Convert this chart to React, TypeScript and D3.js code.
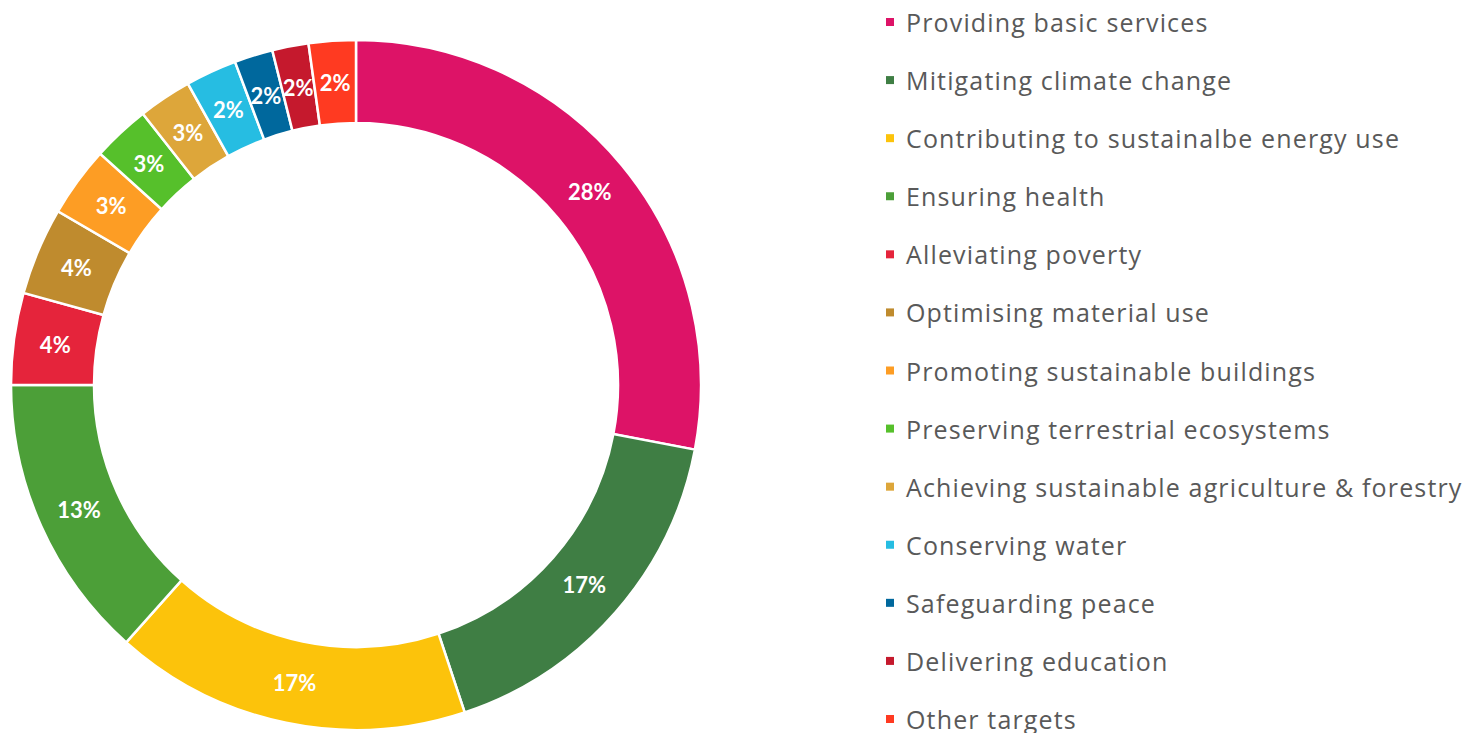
import React, { useEffect, useRef } from "react";
import * as d3 from "d3";

const categories = [
  "Providing basic services",
  "Mitigating climate change",
  "Contributing to sustainalbe energy use",
  "Ensuring health",
  "Alleviating poverty",
  "Optimising material use",
  "Promoting sustainable buildings",
  "Preserving terrestrial ecosystems",
  "Achieving sustainable agriculture & forestry",
  "Conserving water",
  "Safeguarding peace",
  "Delivering education",
  "Other targets",
];

const shares = [28.0, 16.9, 16.7, 13.4, 4.3, 4.1, 3.3, 2.7, 2.5, 2.4, 1.8, 1.7, 2.2];

const colors = [
  "#DD1367",
  "#3F7E44",
  "#FCC30B",
  "#4C9F38",
  "#E5243B",
  "#BF8B2E",
  "#FD9D24",
  "#56C02B",
  "#DDA63A",
  "#26BDE2",
  "#00689D",
  "#C5192D",
  "#FF3A21",
];

const App = () => {
  const svgRef = useRef<SVGSVGElement>(null);

  useEffect(() => {
    const width = 1467;
    const height = 733;
    const cx = 356;
    const cy = 385;
    const outer = 345;
    const inner = 262;

    const svg = d3.select(svgRef.current).attr("width", width).attr("height", height);
    svg.selectAll("*").remove();

    const data = categories.map((name, i) => ({ name, value: shares[i], color: colors[i] }));

    const pie = d3
      .pie<any>()
      .sort(null)
      .value((d) => d.value)
      .startAngle(0)
      .endAngle(2 * Math.PI);
    const arcs = pie(data);

    const arc = d3.arc<any>().innerRadius(inner).outerRadius(outer);

    const g = svg.append("g").attr("transform", `translate(${cx},${cy})`);

    g.selectAll("path")
      .data(arcs)
      .enter()
      .append("path")
      .attr("d", arc)
      .attr("fill", (d) => d.data.color)
      .attr("stroke", "#fff")
      .attr("stroke-width", 2.5);

    g.selectAll("text.pct")
      .data(arcs)
      .enter()
      .append("text")
      .attr("class", "pct")
      .attr("transform", (d) => `translate(${arc.centroid(d)})`)
      .attr("text-anchor", "middle")
      .attr("dominant-baseline", "central")
      .attr("fill", "#fff")
      .style("font-family", "Lato, 'Open Sans', sans-serif")
      .style("font-weight", "bold")
      .style("font-size", "22px")
      .text((d) => `${Math.round(d.data.value)}%`);

    const y = d3.scalePoint<string>().domain(categories).range([22, 719]);

    const legend = svg
      .selectAll("g.legend")
      .data(data)
      .enter()
      .append("g")
      .attr("class", "legend")
      .attr("transform", (d) => `translate(886,${y(d.name)})`);

    legend
      .append("rect")
      .attr("x", 0)
      .attr("y", -4)
      .attr("width", 8)
      .attr("height", 8)
      .attr("fill", (d) => d.color);

    legend
      .append("text")
      .attr("x", 20)
      .attr("dominant-baseline", "central")
      .attr("fill", "#595959")
      .style("font-family", "'Open Sans', sans-serif")
      .style("font-size", "25px")
      .style("letter-spacing", "1.15px")
      .text((d) => d.name);
  }, []);

  return <svg ref={svgRef} style={{ position: "absolute", left: 0, top: 0 }}></svg>;
};

export default App;
